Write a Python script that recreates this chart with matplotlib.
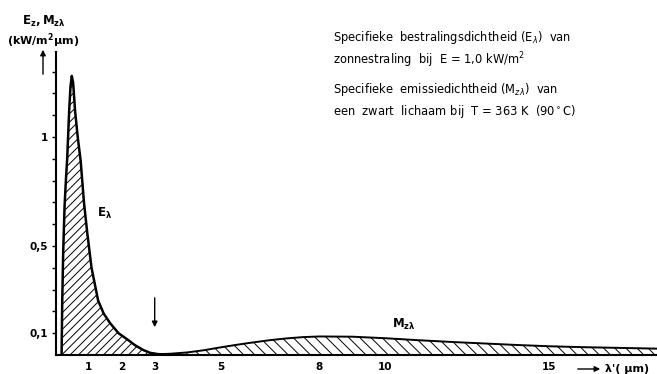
import matplotlib.pyplot as plt
from matplotlib.patches import FancyArrowPatch

# spectral irradiance of sunlight (E_lambda), kW/m2 um
sun_x = [0.17, 0.19, 0.22, 0.26, 0.30, 0.34, 0.40, 0.44, 0.48, 0.52, 0.58, 0.66, 0.75,
         0.85, 0.95, 1.08, 1.28, 1.45, 1.64, 1.9, 2.19, 2.4, 2.65, 2.86, 3.1, 3.4]
sun_y = [0.0, 0.25, 0.48, 0.68, 0.80, 0.90, 1.12, 1.23, 1.28, 1.25, 1.12, 1.0, 0.89,
         0.70, 0.56, 0.40, 0.25, 0.19, 0.147, 0.10, 0.069, 0.045, 0.023, 0.01, 0.004, 0.002]

# spectral exitance of a black body at 363 K (M_z_lambda)
bb_x = [3.0, 3.5, 4.0, 4.5, 5.0, 5.5, 6.0, 6.5, 7.0, 7.5, 8.0, 9.0, 10.0,
        11.0, 12.0, 13.0, 14.0, 15.0, 16.0, 17.0, 18.0, 18.3]
bb_y = [0.003, 0.006, 0.012, 0.022, 0.035, 0.047, 0.058, 0.068, 0.076, 0.082, 0.085, 0.084, 0.077,
        0.068, 0.060, 0.053, 0.046, 0.040, 0.036, 0.033, 0.030, 0.029]

xticks = [1, 2, 3, 5, 8, 10, 15]
yticks = [0.1, 0.5, 1.0]
ylabels = ["0,1", "0,5", "1"]

plt.rcParams["hatch.linewidth"] = 0.7
plt.rcParams["font.family"] = "DejaVu Sans"
plt.rcParams["mathtext.fontset"] = "custom"
plt.rcParams["mathtext.rm"] = "DejaVu Sans"
plt.rcParams["mathtext.bf"] = "DejaVu Sans:bold"

fig = plt.figure(figsize=(6.57, 3.74), dpi=100)
ax = fig.add_axes([56 / 657, 19 / 374, 601 / 657, 303 / 374])

ax.fill_between(sun_x, sun_y, 0, facecolor="none", edgecolor="black", hatch="////", linewidth=0)
ax.fill_between(bb_x, bb_y, 0, facecolor="none", edgecolor="black", hatch="\\\\\\", linewidth=0)
ax.plot(sun_x, sun_y, color="black", linewidth=1.8)
ax.plot(bb_x, bb_y, color="black", linewidth=1.4)

ax.set_xlim(0, 601 / 32.9)
ax.set_ylim(0, 303 / 218)
ax.spines["top"].set_visible(False)
ax.spines["right"].set_visible(False)
ax.spines["left"].set_linewidth(1.5)
ax.spines["bottom"].set_linewidth(1.5)

ax.set_xticks(xticks)
ax.set_xticklabels([str(t) for t in xticks], fontsize=7.5, fontweight="bold")
ax.tick_params(axis="x", length=0, pad=5)
ax.set_yticks([i / 10 for i in range(1, 14)], minor=True)
ax.set_yticks(yticks)
ax.set_yticklabels(ylabels, fontsize=7.5, fontweight="bold")
ax.tick_params(axis="y", which="both", length=3, width=1, pad=3)

ax.text(1.25, 0.65, r"$\mathbf{E_{λ}}$", fontsize=8.5, va="center")
ax.text(10.2, 0.14, r"$\mathbf{M_{zλ}}$", fontsize=8.5, va="center")
ax.annotate("", xy=(3.0, 0.115), xytext=(3.0, 0.275),
            arrowprops=dict(arrowstyle="-|>", color="black", lw=1, mutation_scale=8))

# axis captions outside the axes
fig.text(44 / 657, 1 - 21 / 374, r"$\mathbf{E_z,M_{zλ}}$", fontsize=8.5,
         ha="center", va="center")
fig.text(43 / 657, 1 - 41 / 374, r"(kW/m$\mathbf{^2}$µm)", fontsize=8, fontweight="bold",
         ha="center", va="center")
fig.patches.append(FancyArrowPatch(
    (43 / 657, 1 - 77 / 374), (43 / 657, 1 - 47 / 374), transform=fig.transFigure,
    arrowstyle="-|>", mutation_scale=8, color="black", lw=1))
fig.patches.append(FancyArrowPatch(
    (575 / 657, 1 - 369 / 374), (603 / 657, 1 - 369 / 374), transform=fig.transFigure,
    arrowstyle="-|>", mutation_scale=8, color="black", lw=1))
fig.text(605 / 657, 1 - 369 / 374, "λ'( µm)", fontsize=8, fontweight="bold", va="center")

notes = [
    (38, r"Specifieke  bestralingsdichtheid (E$_λ$)  van"),
    (60, r"zonnestraling  bij  E = 1,0 kW/m$^2$"),
    (90, r"Specifieke  emissiedichtheid (M$_{zλ}$)  van"),
    (112, r"een  zwart  lichaam bij  T = 363 K  (90$^\circ$C)"),
]
for ypix, s in notes:
    fig.text(333 / 657, 1 - ypix / 374, s, fontsize=8.3, va="center")

fig.savefig("out.png", dpi=100)
